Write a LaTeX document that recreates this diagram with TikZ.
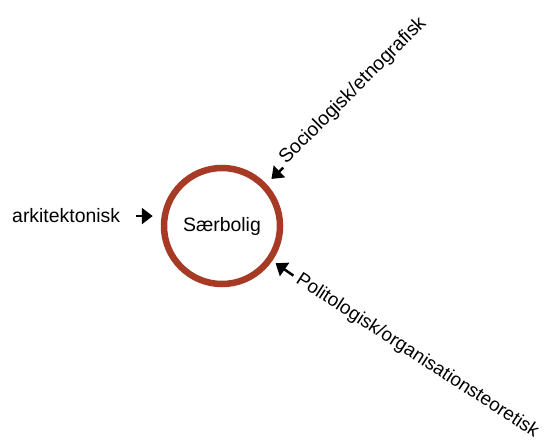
\documentclass[tikz,border=0pt]{standalone}
\usepackage{fontspec}
\setmainfont{Liberation Sans}
\usetikzlibrary{arrows.meta}
\definecolor{rust}{RGB}{166,58,36}

\begin{document}
\begin{tikzpicture}[x = 1bp, y = -1bp,
    tekst/.style = {inner sep = 3bp, font = \fontsize{19.5}{23}\selectfont},
    ring/.style = {circle, draw = rust, line width = 6.5bp, minimum size = 116bp, inner sep = 0pt},
    pil/.style = {-{Triangle[length = 11bp, width = 16bp]}, line width = 2.5bp}]
  \useasboundingbox (0,0) rectangle (551,448);
  \node[ring, tekst] (bolig) at (222,226) {Særbolig};
  \node[tekst, anchor = base west] (ark) at (9,223) {arkitektonisk};
  \node[tekst, anchor = base west, rotate = 45] (soc) at (284,167) {Sociologisk/etnografisk};
  \node[tekst, inner sep = 1bp, font = \fontsize{19}{23}\selectfont, anchor = base west, rotate = -33] (pol) at (294,282) {Politologisk/organisationsteoretisk};
  \draw[pil, shorten <= 13bp, shorten >= 8bp] (ark.east) -- (ark.east -| bolig.west);
  \draw[pil, shorten <= 1bp, shorten >= 7bp] (soc.base west) -- (bolig);
  \draw[pil, shorten <= 4bp, shorten >= 4bp] (pol.west) -- (bolig);
\end{tikzpicture}
\end{document}
